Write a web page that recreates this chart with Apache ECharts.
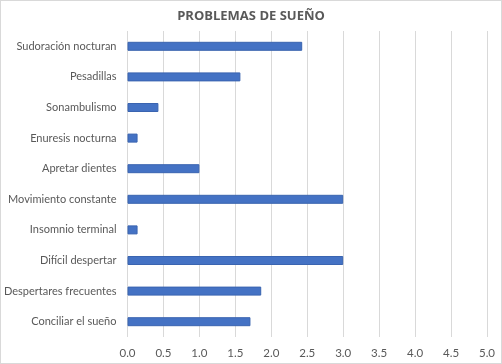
<!DOCTYPE html>
<html><head><meta charset="utf-8">
<script src="https://cdn.jsdelivr.net/npm/echarts@6/dist/echarts.min.js"></script>
<style>html,body{margin:0;padding:0;background:#fff}#c{width:500px;height:362px;border:1px solid #d9d9d9}</style>
</head><body><div id="c"></div>
<script>
const categories = ["Sudoración nocturan","Pesadillas","Sonambulismo","Enuresis nocturna","Apretar dientes","Movimiento constante","Insomnio terminal","Difícil despertar","Despertares frecuentes","Conciliar el sueño"];
const values = [2.43,1.57,0.43,0.14,1.0,3.0,0.14,3.0,1.86,1.71];
const xTicks = {min:0,max:5,interval:0.5};
const chart = echarts.init(document.getElementById('c'));
chart.setOption({
  animation:false,
  title:{text:"PROBLEMAS DE SUEÑO",left:'center',top:4,textStyle:{fontFamily:'Open Sans',fontSize:13,fontWeight:'bold',color:'#595959'}},
  grid:{left:126.5,right:14,top:30,bottom:26,containLabel:false,outerBoundsMode:'none'},
  xAxis:{type:'value',min:xTicks.min,max:xTicks.max,interval:xTicks.interval,
    axisLine:{show:false},axisTick:{show:false},
    splitLine:{lineStyle:{color:'#d9d9d9',width:1}},
    axisLabel:{formatter:v=>v.toFixed(1),color:'#595959',fontFamily:'Lato',fontSize:11.5,margin:10}},
  yAxis:{type:'category',data:categories,inverse:true,
    axisLine:{show:false},axisTick:{show:false},
    axisLabel:{color:'#595959',fontFamily:'Lato',fontSize:11,margin:11}},
  series:[{type:'bar',data:values,barWidth:9,
    itemStyle:{color:'#4472C4',borderColor:'#3A64B0',borderWidth:1}}]
});
</script></body></html>
